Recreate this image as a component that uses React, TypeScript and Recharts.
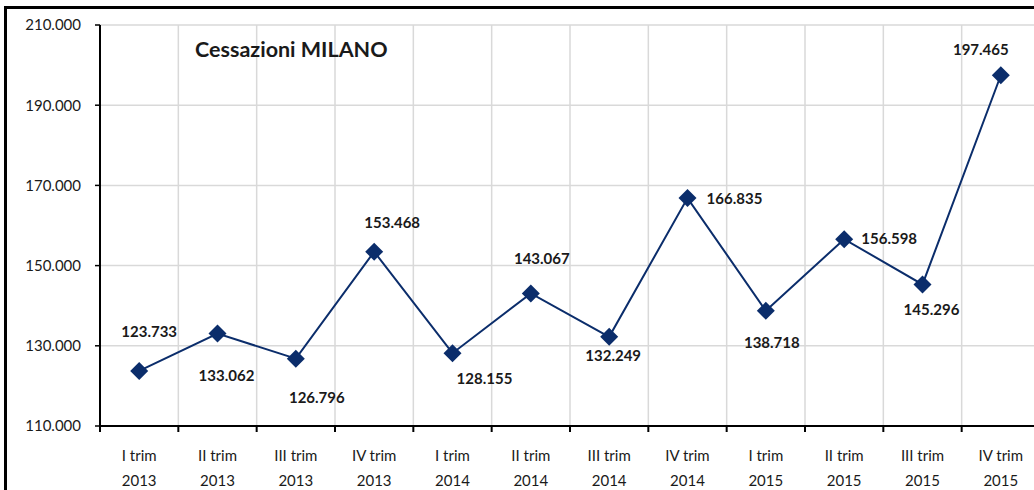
import React from "react";
import { CartesianGrid, Line, LineChart, XAxis, YAxis } from "recharts";

// Cessazioni per trimestre, provincia di Milano
const quarters = ["I trim", "II trim", "III trim", "IV trim", "I trim", "II trim", "III trim", "IV trim", "I trim", "II trim", "III trim", "IV trim"];
const years = ["2013", "2013", "2013", "2013", "2014", "2014", "2014", "2014", "2015", "2015", "2015", "2015"];
const values = [123733, 133062, 126796, 153468, 128155, 143067, 132249, 166835, 138718, 156598, 145296, 197465];
const yTicks = [110000, 130000, 150000, 170000, 190000, 210000];

// where each value label sits relative to its marker (dx, dy)
const labelOffsets: [number, number][] = [
  [10, -40], [9, 41], [21, 38], [18, -30], [32, 25], [11, -35],
  [4, 18], [47, 0], [6, 31], [45, -1], [9, 25], [-20, -26]
];

const rows = values.map((v, i) => ({ x: i + 0.5, value: v }));
const boundaryTicks = quarters.map((_, i) => i).concat([quarters.length]);

const NAVY = "#0b2d6b";
const FONT = "Lato, 'Open Sans', sans-serif";

const fmt = (v: number) => String(v).replace(/\B(?=(\d{3})+(?!\d))/g, ".");

// ticks sit on the category boundaries; the label goes in the middle of the band to the right
function CategoryTick(props: any) {
  const { x, y, payload, width } = props;
  const i = Math.round(payload.value);
  if (i >= quarters.length) return <g />;
  const band = (Number(width) || 940) / quarters.length;
  const cx = x + band / 2;
  return (
    <text x={cx} y={y} textAnchor="middle" fill="#1a1a1a" fontSize={15} fontFamily={FONT}>
      <tspan x={cx} dy={27}>{quarters[i]}</tspan>
      <tspan x={cx} dy={25}>{years[i]}</tspan>
    </text>
  );
}

function Diamond(props: any) {
  const { cx, cy, index } = props;
  const r = 9;
  return <path key={`d-${index}`} d={`M${cx},${cy - r}L${cx + r},${cy}L${cx},${cy + r}L${cx - r},${cy}Z`} fill={NAVY} />;
}

function ValueLabel(props: any) {
  const { x, y, index, value } = props;
  const [dx, dy] = labelOffsets[index] || [0, -20];
  return (
    <text key={`l-${index}`} x={x + dx} y={y + dy} textAnchor="middle" dominantBaseline="central" fill="#1a1a1a" fontSize={15} fontWeight={700} fontFamily={FONT}>
      {fmt(value)}
    </text>
  );
}

export default function App() {
  return (
    <div style={{ position: "absolute", left: 0, top: 0, width: 1034, height: 490, overflow: "hidden", background: "#fff", fontFamily: FONT }}>
      <div style={{ position: "absolute", left: 4, top: 6, width: 1100, height: 600, border: "3px solid #000", boxSizing: "border-box" }} />
      <div style={{ position: "absolute", left: 0, top: 0 }}>
        <LineChart width={1050} height={490} data={rows} margin={{ top: 25, right: 10, bottom: 4, left: 0 }}>
          <CartesianGrid stroke="#d9d9d9" strokeWidth={1.5} />
          <YAxis
            width={100}
            domain={[110000, 210000]}
            ticks={yTicks}
            interval={0}
            tickFormatter={fmt}
            axisLine={{ stroke: "#000", strokeWidth: 2 }}
            tickLine={{ stroke: "#000", strokeWidth: 1.5 }}
            tickSize={5}
            tickMargin={14}
            tick={{ fill: "#1a1a1a", fontSize: 15, fontFamily: FONT }}
          />
          <XAxis
            type="number"
            dataKey="x"
            domain={[0, 12]}
            ticks={boundaryTicks}
            interval={0}
            axisLine={{ stroke: "#000", strokeWidth: 2 }}
            tickLine={{ stroke: "#000", strokeWidth: 2 }}
            tickSize={6}
            tick={<CategoryTick />}
            height={60}
          />
          <Line
            dataKey="value"
            stroke={NAVY}
            strokeWidth={2}
            dot={Diamond}
            activeDot={false}
            label={ValueLabel}
            isAnimationActive={false}
          />
        </LineChart>
      </div>
      <div style={{ position: "absolute", left: 195, top: 36, fontSize: 21.5, fontWeight: 700, color: "#1a1a1a" }}>
        Cessazioni MILANO
      </div>
    </div>
  );
}
